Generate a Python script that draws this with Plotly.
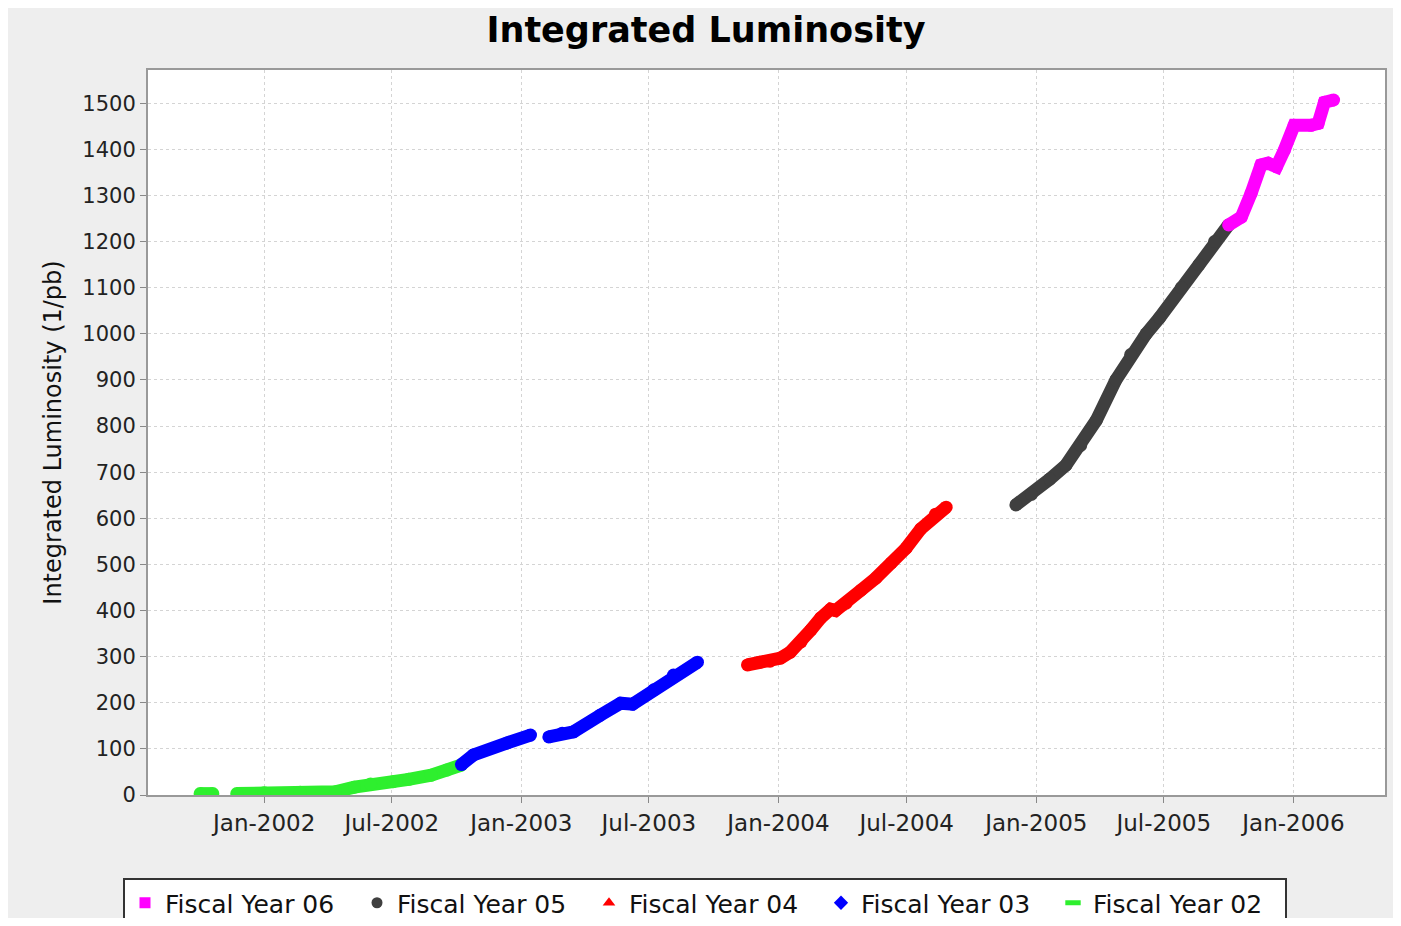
import plotly.graph_objects as go

# ---- data ----
fy02_dates = ["2001-10-02", "2001-10-20", None, "2001-11-23", "2002-01-01", "2002-02-21",
              "2002-04-12", "2002-05-09", "2002-06-01", "2002-07-03", "2002-07-25",
              "2002-08-26", "2002-09-17", "2002-10-08"]
fy02_vals = [3, 3, None, 3, 5, 6, 7, 17, 24, 29, 34, 43, 54, 65]

fy03_dates = ["2002-10-08", "2002-10-25", "2002-12-12", "2003-01-14", None,
              "2003-02-09", "2003-02-28", "2003-03-16", "2003-04-23", "2003-05-22",
              "2003-06-08", "2003-07-08", "2003-08-05", "2003-09-08"]
fy03_vals = [66, 87, 113, 130, None, 126, 134, 137, 173, 199, 197, 228, 260, 288]

fy04_dates = ["2003-11-18", "2003-12-05", "2003-12-20", "2004-01-04", "2004-01-18",
              "2004-02-02", "2004-02-16", "2004-03-01", "2004-03-15", "2004-03-22",
              "2004-04-06", "2004-04-27", "2004-05-18", "2004-06-09", "2004-06-30",
              "2004-07-21", "2004-08-11", "2004-08-26"]
fy04_vals = [282, 288, 290, 297, 310, 332, 358, 384, 403, 400, 416, 444, 470, 503,
             535, 577, 609, 624]

fy05_dates = ["2004-12-03", "2004-12-25", "2005-01-20", "2005-02-12", "2005-03-05",
              "2005-03-27", "2005-04-24", "2005-05-15", "2005-06-06", "2005-06-25",
              "2005-07-26", "2005-08-20", "2005-09-11", "2005-10-01"]
fy05_vals = [629, 652, 685, 715, 758, 812, 900, 955, 1000, 1035, 1100, 1150, 1200, 1236]

fy06_dates = ["2005-10-01", "2005-10-19", "2005-11-02", "2005-11-16", "2005-11-26",
              "2005-12-08", "2005-12-19", "2006-01-02", "2006-01-26", "2006-02-05",
              "2006-02-14", "2006-02-27"]
fy06_vals = [1236, 1253, 1305, 1366, 1370, 1362, 1398, 1452, 1452, 1456, 1502, 1507]

series_names = ["Fiscal Year 06", "Fiscal Year 05", "Fiscal Year 04", "Fiscal Year 03", "Fiscal Year 02"]
series_dates = [fy06_dates, fy05_dates, fy04_dates, fy03_dates, fy02_dates]
series_vals = [fy06_vals, fy05_vals, fy04_vals, fy03_vals, fy02_vals]
series_colors = ["#FF00FF", "#3F3F3F", "#FF0000", "#0000FF", "#2EEF2E"]
legend_symbols = ["square", "circle", "triangle-up", "diamond", "line-ew-open"]

x_range = ["2001-07-20", "2006-05-11"]
y_range = [0, 1572]

fig = go.Figure()

# data traces (drawn oldest first so newer sit on top)
for name, d, v, c in reversed(list(zip(series_names, series_dates, series_vals, series_colors))):
    fig.add_trace(go.Scatter(
        x=d, y=v, mode="lines+markers", name=name, legendgroup=name, showlegend=False,
        line=dict(color=c, width=13), marker=dict(color=c, size=13, symbol="circle"),
        connectgaps=False, hoverinfo="x+y+name"))

# legend-only entries
for name, c, s in zip(series_names, series_colors, legend_symbols):
    mk = dict(color=c, size=11, symbol=s)
    if s == "line-ew-open":
        mk = dict(color=c, size=11, symbol=s, line=dict(color=c, width=5))
    fig.add_trace(go.Scatter(x=[None], y=[None], mode="markers", name=name,
                             legendgroup=name, marker=mk))

# page body has an 8px margin; figure sized to fit inside 1401x926 window
W, H = 1385, 910
L, R, T, B = 140, 8, 62, 123
pw, ph = W - L - R, H - T - B

font_family = "DejaVu Sans"
fig.update_layout(
    width=W, height=H,
    margin=dict(l=L, r=R, t=T, b=B, autoexpand=False),
    paper_bgcolor="#EEEEEE", plot_bgcolor="white",
    title=dict(text="<b>Integrated Luminosity</b>", x=(706 - 8) / W, xanchor="center",
               xref="container", y=1 - 22 / H, yanchor="middle",
               font=dict(family=font_family, size=35, color="black")),
    font=dict(family=font_family, color="#222222"),
    legend=dict(orientation="h", x=(115 - L) / pw, y=(T + ph - 870) / ph,
                xanchor="left", yanchor="top", bgcolor="white",
                bordercolor="#333333", borderwidth=2,
                font=dict(family=font_family, size=25, color="#111111"),
                traceorder="normal", entrywidth=187, entrywidthmode="pixels"),
    showlegend=True,
)

fig.update_xaxes(type="date", range=x_range, tick0="2002-01-01", dtick="M6",
                 tickformat="%b-%Y", ticks="outside", ticklen=6, tickcolor="#888888",
                 showline=True, linecolor="#999999", linewidth=2, mirror=True,
                 showgrid=True, gridcolor="#D4D4D4", griddash="dot", gridwidth=1,
                 tickfont=dict(family=font_family, size=23, color="#222222"),
                 zeroline=False)
fig.update_yaxes(range=y_range, dtick=100, tick0=0, ticks="outside", ticklen=6,
                 tickcolor="#888888", showline=True, linecolor="#999999", linewidth=2,
                 mirror=True, showgrid=True, gridcolor="#D4D4D4", griddash="dot",
                 gridwidth=1, zeroline=False,
                 tickfont=dict(family=font_family, size=21, color="#222222"),
                 title=dict(text="Integrated Luminosity (1/pb)", standoff=14,
                            font=dict(family=font_family, size=24, color="#111111")))

fig.write_html("out.html")
